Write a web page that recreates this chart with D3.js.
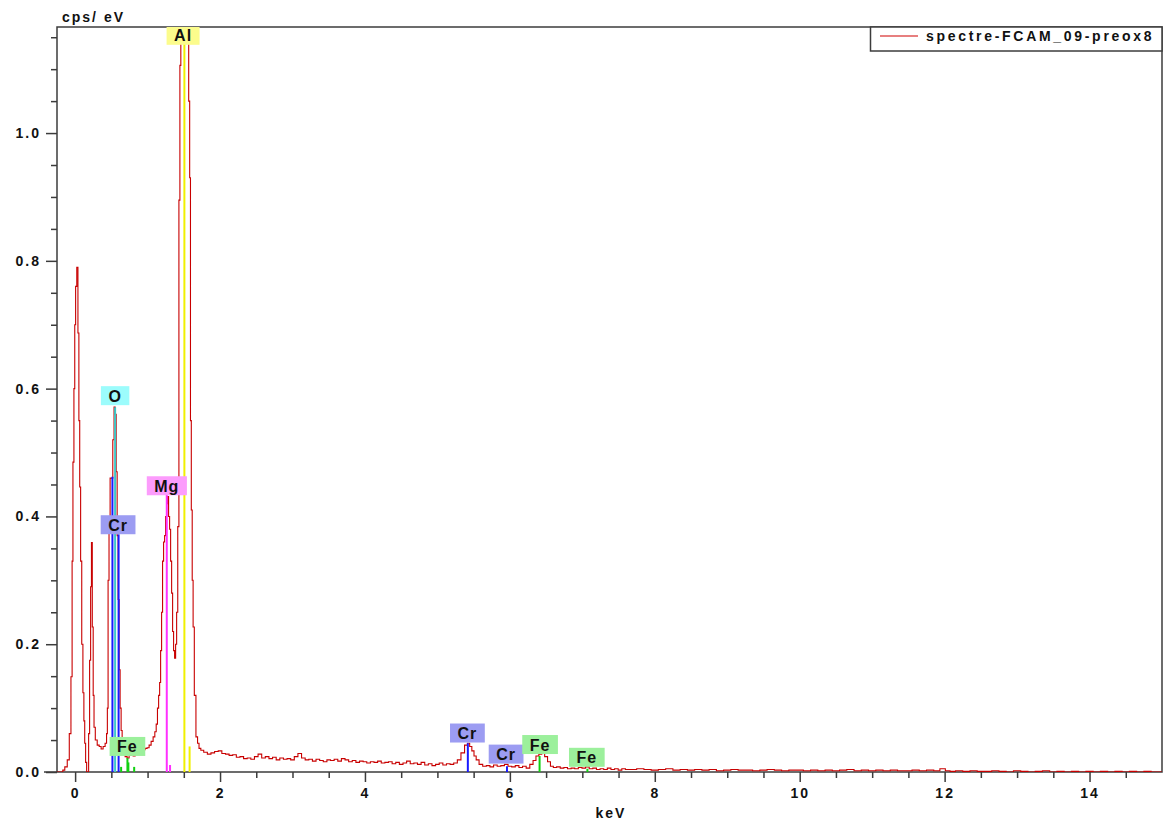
<!DOCTYPE html>
<html><head><meta charset="utf-8">
<script src="https://cdn.jsdelivr.net/npm/d3@7"></script>
<style>
html,body{margin:0;padding:0;background:#fff;}
svg{display:block;}
</style></head><body>
<svg id="chart" width="1164" height="825"></svg>
<script>
// ---------------- DATA ----------------
const seriesName = "spectre-FCAM_09-preox8";
const xTitle = "keV";
const yTitle = "cps/ eV";
const xMajorTicks = [0, 2, 4, 6, 8, 10, 12, 14];
const yMajorTicks = [0.0, 0.2, 0.4, 0.6, 0.8, 1.0];

// spectrum segments: [energy keV, cps/eV]
const zeroPeak = [[-0.25,0],[-0.18,0],[-0.16,0.003],[-0.125,0.008],[-0.092,0.019],[-0.069,0.06],[-0.046,0.149],[-0.037,0.33],[-0.023,0.485],[-0.01,0.60],[0,0.70],[0.014,0.76],[0.032,0.79],[0.046,0.687],[0.058,0.55],[0.069,0.446],[0.083,0.33],[0.1,0.2],[0.115,0.124],[0.127,0.08],[0.138,0.045],[0.152,0.015],[0.166,0],[0.18,0]];
const lowEnergy = [[0.193,0.06],[0.207,0.175],[0.221,0.29],[0.23,0.359],[0.244,0.227],[0.255,0.12],[0.267,0.07],[0.29,0.05],[0.32,0.042],[0.345,0.04],[0.373,0.036],[0.40,0.04],[0.428,0.045],[0.44,0.06],[0.45,0.1],[0.46,0.3],[0.476,0.40],[0.49,0.46],[0.51,0.46],[0.53,0.52],[0.545,0.571],[0.56,0.56],[0.573,0.47],[0.587,0.37],[0.6,0.27],[0.614,0.16],[0.628,0.1],[0.642,0.065],[0.656,0.04],[0.676,0.028],[0.704,0.024],[0.731,0.022],[0.759,0.026],[0.787,0.028],[0.814,0.025],[0.842,0.03],[0.869,0.028],[0.897,0.032],[0.925,0.03],[0.952,0.035],[0.98,0.037],[1.007,0.038],[1.035,0.042],[1.063,0.048],[1.09,0.055],[1.11,0.063],[1.128,0.075],[1.145,0.1],[1.16,0.12],[1.173,0.14]];
const mgAlPeaks = [[1.187,0.19],[1.2,0.25],[1.214,0.33],[1.228,0.36],[1.242,0.37],[1.256,0.40],[1.27,0.42],[1.283,0.431],[1.297,0.40],[1.311,0.38],[1.325,0.33],[1.339,0.28],[1.352,0.22],[1.366,0.19],[1.38,0.178],[1.394,0.2],[1.408,0.25],[1.425,0.384],[1.44,0.895],[1.452,1.106],[1.466,1.3],[1.48,1.4],[1.5,1.45],[1.52,1.42],[1.54,1.35],[1.56,1.2],[1.575,1.05],[1.587,0.93],[1.597,0.55],[1.61,0.41],[1.622,0.3],[1.635,0.227],[1.655,0.12],[1.68,0.055],[1.70,0.045],[1.72,0.037]];
const midBaseline = [[1.75,0.034],[1.80,0.031],[1.85,0.028],[1.90,0.030],[1.95,0.032],[2.00,0.033],[2.05,0.029],[2.10,0.028],[2.15,0.026],[2.20,0.027],[2.25,0.023],[2.30,0.024],[2.35,0.021],[2.40,0.022],[2.45,0.020],[2.50,0.024],[2.55,0.028],[2.60,0.022],[2.65,0.024],[2.70,0.021],[2.75,0.023],[2.80,0.019],[2.85,0.022],[2.90,0.020],[2.95,0.021],[3.00,0.019],[3.05,0.024],[3.10,0.029],[3.15,0.022],[3.20,0.019],[3.25,0.020],[3.30,0.017],[3.35,0.020],[3.40,0.018],[3.45,0.016],[3.50,0.019],[3.55,0.018],[3.60,0.020],[3.65,0.017],[3.70,0.021],[3.75,0.019],[3.80,0.016],[3.85,0.018],[3.90,0.015],[3.95,0.017],[4.00,0.016],[4.05,0.014],[4.10,0.016],[4.15,0.015],[4.20,0.017],[4.25,0.014],[4.30,0.015],[4.35,0.016],[4.40,0.013],[4.45,0.015],[4.50,0.012],[4.55,0.014],[4.60,0.017],[4.65,0.013],[4.70,0.014],[4.75,0.012],[4.80,0.015],[4.85,0.011],[4.90,0.013],[4.95,0.010],[5.00,0.012],[5.05,0.014],[5.10,0.011],[5.15,0.013],[5.20,0.012],[5.25,0.014]];
const kLineRegion = [[5.30,0.019],[5.35,0.030],[5.40,0.042],[5.43,0.045],[5.46,0.040],[5.49,0.033],[5.52,0.025],[5.55,0.019],[5.60,0.012],[5.65,0.009],[5.70,0.010],[5.75,0.008],[5.80,0.011],[5.85,0.009],[5.90,0.010],[5.95,0.012],[6.00,0.009],[6.05,0.008],[6.10,0.010],[6.15,0.007],[6.20,0.009],[6.25,0.006],[6.30,0.012],[6.34,0.018],[6.38,0.025],[6.42,0.028],[6.46,0.029],[6.50,0.024],[6.54,0.016],[6.58,0.009],[6.62,0.007],[6.67,0.008],[6.72,0.006],[6.77,0.007],[6.82,0.005],[6.87,0.006],[6.92,0.005],[6.97,0.007],[7.02,0.006],[7.07,0.008],[7.12,0.005],[7.17,0.006],[7.22,0.004],[7.27,0.005],[7.32,0.004],[7.37,0.006],[7.42,0.004],[7.47,0.005],[7.52,0.003],[7.57,0.005],[7.62,0.004]];
const highBaseline = [[7.7,0.004],[7.8,0.005],[7.9,0.004],[8.0,0.003],[8.1,0.004],[8.2,0.005],[8.3,0.003],[8.4,0.004],[8.5,0.003],[8.6,0.004],[8.7,0.003],[8.8,0.004],[8.9,0.002],[9.0,0.003],[9.1,0.004],[9.2,0.003],[9.3,0.003],[9.4,0.002],[9.5,0.003],[9.6,0.004],[9.7,0.003],[9.8,0.002],[9.9,0.003],[10.0,0.003],[10.1,0.002],[10.2,0.003],[10.3,0.002],[10.4,0.003],[10.5,0.002],[10.6,0.003],[10.7,0.004],[10.8,0.002],[10.9,0.003],[11.0,0.002],[11.1,0.003],[11.2,0.002],[11.3,0.003],[11.4,0.002],[11.5,0.002],[11.6,0.003],[11.7,0.002],[11.8,0.003],[11.9,0.002],[11.97,0.005],[12.05,0.002],[12.1,0.001],[12.2,0.002],[12.3,0.001],[12.4,0.002],[12.5,0.001],[12.6,0.001],[12.7,0.002],[12.8,0.001],[12.9,0],[13.0,0.002],[13.1,0.001],[13.2,0],[13.3,0.001],[13.4,0.002],[13.5,0],[13.6,0.001],[13.7,0],[13.8,0.001],[13.9,0],[14.0,0.001],[14.1,0],[14.2,0.001],[14.3,0],[14.4,0.001],[14.5,0],[14.6,0.001],[14.7,0],[14.8,0.001],[14.9,0],[15.0,0]];

// element line markers
const markerElement = ["Cr","O","Cr","Fe","Fe","Fe","Fe","Mg","Mg","Al","Al","Cr","Cr","Fe","Fe"];
const markerKeV     = [0.515,0.552,0.600,0.635,0.722,0.735,0.815,1.265,1.310,1.508,1.580,5.420,5.960,6.410,7.070];
const markerHeight  = [0.462,0.571,0.372,0.008,0.022,0.015,0.008,0.444,0.011,1.200,0.040,0.045,0.009,0.025,0.005];

// element labels
const labelText = ["Al","O","Mg","Cr","Fe","Cr","Cr","Fe","Fe"];
const labelKeV  = [1.490,0.552,1.266,0.593,0.722,5.414,5.948,6.417,7.062];
const labelCps  = [1.153,0.589,0.448,0.387,0.040,0.061,0.028,0.043,0.023];

const elementLineColor = {Cr:"#1a1aff", O:"#3cc8c8", Fe:"#10d010", Mg:"#ff30ff", Al:"#f0f000"};
const elementBoxColor  = {Cr:"#9c9cf2", O:"#9cfcfc", Fe:"#9cf09c", Mg:"#fc9cfc", Al:"#fcfc8c"};

// ---------------- CHART ----------------
const font = '"Liberation Sans", Arial, Helvetica, sans-serif';
const axisColor = "#3c3c3c";
const svg = d3.select("#chart");
const pLeft = 57, pRight = 1162, pTop = 27, pBottom = 772;

const x = d3.scaleLinear().domain([-0.25, 15.0]).range([pLeft, pRight]);
const y = d3.scaleLinear().domain([0, 1.166]).range([pBottom, pTop]);

svg.append("defs").append("clipPath").attr("id","plotClip")
  .append("rect").attr("x",pLeft).attr("y",pTop).attr("width",pRight-pLeft).attr("height",pBottom-pTop);

function styleText(sel, size, ls){
  sel.attr("font-family",font).attr("font-weight","bold").attr("font-size",size)
     .attr("letter-spacing",ls).attr("fill","#111");
}

// y axis
const yMinor = d3.range(0.05, 1.16, 0.05).filter(v => Math.abs(v*5 - Math.round(v*5)) > 1e-6);
const gyMinor = svg.append("g").attr("transform",`translate(${pLeft},0)`)
  .call(d3.axisLeft(y).tickValues(yMinor).tickSize(6).tickFormat(""));
const gy = svg.append("g").attr("transform",`translate(${pLeft},0)`)
  .call(d3.axisLeft(y).tickValues(yMajorTicks).tickSize(11).tickPadding(5).tickFormat(d3.format(".1f")));
// x axis
const xMinor = d3.range(0.5, 15, 1).concat(d3.range(1, 15, 2));
const gxMinor = svg.append("g").attr("transform",`translate(0,${pBottom})`)
  .call(d3.axisBottom(x).tickValues(xMinor).tickSize(6).tickFormat(""));
const gx = svg.append("g").attr("transform",`translate(0,${pBottom})`)
  .call(d3.axisBottom(x).tickValues(xMajorTicks).tickSize(10).tickPadding(6).tickFormat(d3.format("d")));

[gyMinor, gy, gxMinor, gx].forEach(g => {
  g.select(".domain").remove();
  g.selectAll("line").attr("stroke",axisColor).attr("stroke-width",1.5);
  styleText(g.selectAll("text"), 14, 2);
});

// frame
svg.append("path")
  .attr("d",`M44,${pBottom}H${pRight}V${pTop}H${pLeft}V${pBottom}`)
  .attr("fill","none").attr("stroke",axisColor).attr("stroke-width",1.5);

// titles
styleText(svg.append("text").attr("x",62).attr("y",22).text(yTitle), 14, 2);
styleText(svg.append("text").attr("x",611).attr("y",818).attr("text-anchor","middle").text(xTitle), 14, 2);

const plot = svg.append("g").attr("clip-path","url(#plotClip)");

// spectrum
const spectrum = [].concat(zeroPeak, lowEnergy, mgAlPeaks, midBaseline, kLineRegion, highBaseline);
const line = d3.line().x(d => x(d[0])).y(d => y(d[1])).curve(d3.curveStep);
plot.append("path").datum(spectrum)
  .attr("d", line).attr("fill","none").attr("stroke","#c80000").attr("stroke-width",1.1);

// element lines
plot.selectAll("line.marker").data(markerKeV).join("line").attr("class","marker")
  .attr("x1", d => x(d)).attr("x2", d => x(d))
  .attr("y1", y(0)).attr("y2", (d,i) => y(markerHeight[i]))
  .attr("stroke", (d,i) => elementLineColor[markerElement[i]])
  .attr("stroke-width", 2);

// element labels
const lg = plot.selectAll("g.lbl").data(labelText).join("g").attr("class","lbl");
lg.each(function(t, i){
  const g = d3.select(this);
  const rect = g.append("rect");
  const txt = g.append("text").text(t);
  styleText(txt, 16, 1);
  const w = txt.node().getComputedTextLength() + 15;
  const h = 19;
  const cx = x(labelKeV[i]), cy = y(labelCps[i]);
  rect.attr("x", cx - w/2).attr("y", cy - h/2).attr("width", w).attr("height", h)
      .attr("fill", elementBoxColor[t]);
  txt.attr("x", cx - w/2 + 7.5).attr("y", cy + 6);
});

// legend
const legend = svg.append("g");
legend.append("rect").attr("x",870.5).attr("y",pTop).attr("width",pRight-870.5).attr("height",24)
  .attr("fill","#fff").attr("stroke",axisColor).attr("stroke-width",1.5);
legend.append("line").attr("x1",880).attr("x2",918).attr("y1",36).attr("y2",36)
  .attr("stroke","#d00000").attr("stroke-width",1.2);
styleText(legend.append("text").attr("x",926).attr("y",41).text(seriesName), 14, 2.7);
</script>
</body></html>
